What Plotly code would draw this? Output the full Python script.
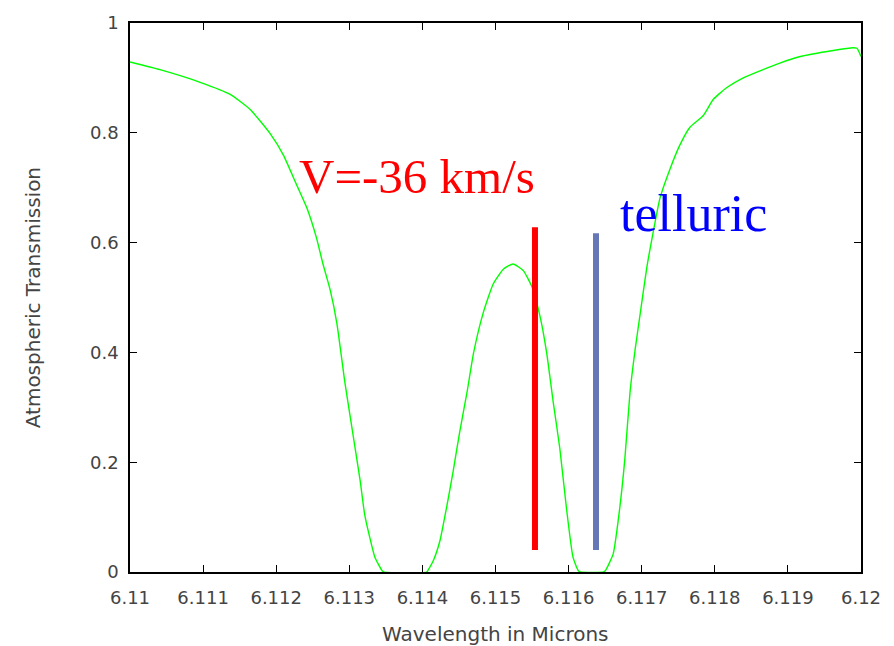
import plotly.graph_objects as go

# Atmospheric transmission curve
wavelength = [6.11000, 6.11041, 6.11096, 6.11137, 6.11164, 6.11192, 6.11210, 6.11228,
              6.11242, 6.11255, 6.11264, 6.11274, 6.11283, 6.11294, 6.11301, 6.11308,
              6.11315, 6.11321, 6.11328, 6.11335, 6.11344, 6.11347,
              6.11406, 6.11408, 6.11415, 6.11424, 6.11433, 6.11442, 6.11451, 6.11461,
              6.11470, 6.11483, 6.11497, 6.11511, 6.11524, 6.11538, 6.11550, 6.11561,
              6.11570, 6.11579, 6.11588, 6.11597, 6.11606, 6.11613, 6.11616,
              6.11648, 6.11651, 6.11661, 6.11670, 6.11677, 6.11684, 6.11691, 6.11698,
              6.11707, 6.11716, 6.11725, 6.11739, 6.11752, 6.11766, 6.11784, 6.11798,
              6.11816, 6.11839, 6.11866, 6.11889, 6.11917, 6.11962, 6.11989, 6.119945,
              6.12000]
transmission = [0.929, 0.915, 0.892, 0.870, 0.843, 0.798, 0.759, 0.705,
                0.663, 0.609, 0.561, 0.513, 0.453, 0.345, 0.285, 0.225,
                0.165, 0.105, 0.063, 0.027, 0.004, 0.0,
                0.0, 0.004, 0.021, 0.057, 0.117, 0.183, 0.255, 0.327,
                0.399, 0.471, 0.525, 0.552, 0.561, 0.549, 0.519, 0.465,
                0.399, 0.309, 0.225, 0.117, 0.027, 0.003, 0.0,
                0.0, 0.004, 0.033, 0.117, 0.207, 0.327, 0.405, 0.471,
                0.555, 0.621, 0.681, 0.735, 0.777, 0.810, 0.831, 0.861,
                0.882, 0.900, 0.915, 0.927, 0.939, 0.950, 0.955, 0.954,
                0.939]

# Marker lines
red_x = [6.11554, 6.11554]
red_y = [0.04, 0.628]
blue_x = [6.116375, 6.116375]
blue_y = [0.04, 0.617]

x_ticks = [6.11, 6.111, 6.112, 6.113, 6.114, 6.115, 6.116, 6.117, 6.118, 6.119, 6.12]
x_ticklabels = ["6.11", "6.111", "6.112", "6.113", "6.114", "6.115", "6.116", "6.117", "6.118", "6.119", "6.12"]
y_ticks = [0, 0.2, 0.4, 0.6, 0.8, 1]
y_ticklabels = ["0", "0.2", "0.4", "0.6", "0.8", "1"]

fig = go.Figure()
fig.add_trace(go.Scatter(x=wavelength, y=transmission, mode="lines",
                         line=dict(color="#00ff00", width=1.4, shape="spline", smoothing=0.5),
                         showlegend=False, hoverinfo="skip"))
fig.add_trace(go.Scatter(x=red_x, y=red_y, mode="lines",
                         line=dict(color="#ff0000", width=6), showlegend=False))
fig.add_trace(go.Scatter(x=blue_x, y=blue_y, mode="lines",
                         line=dict(color="#6677b8", width=6), showlegend=False))

fig.add_annotation(x=6.11229, y=0.720, xref="x", yref="y", text="V=-36 km/s",
                   showarrow=False, xanchor="left", yanchor="middle",
                   font=dict(family="Liberation Serif", size=49, color="#ff0000"))
fig.add_annotation(x=6.11667, y=0.653, xref="x", yref="y", text="telluric",
                   showarrow=False, xanchor="left", yanchor="middle",
                   font=dict(family="Liberation Serif", size=52, color="#0000ff"))

fig.add_annotation(x=0.5, y=-0.1124, xref="paper", yref="paper", text="Wavelength in Microns",
                   showarrow=False, xanchor="center", yanchor="middle",
                   font=dict(family="DejaVu Sans", size=20, color="#444444"))
fig.add_annotation(x=-0.133, y=0.5, xref="paper", yref="paper", text="Atmospheric Transmission",
                   showarrow=False, xanchor="center", yanchor="middle", textangle=-90,
                   font=dict(family="DejaVu Sans", size=20, color="#444444"))

axis_common = dict(showgrid=False, zeroline=False, showline=True, linecolor="black",
                   linewidth=1.5, mirror="ticks", ticks="inside", ticklen=7,
                   tickcolor="black", tickwidth=1.2,
                   tickfont=dict(family="DejaVu Sans", size=18, color="#444444"))

fig.update_xaxes(range=[6.11, 6.12], tickvals=x_ticks, ticktext=x_ticklabels,
                 ticklabelstandoff=9, **axis_common)
fig.update_yaxes(range=[0, 1], tickvals=y_ticks, ticktext=y_ticklabels,
                 ticklabelstandoff=6, **axis_common)

fig.update_layout(width=894, height=646, margin=dict(l=130, r=33, t=16, b=74),
                  paper_bgcolor="white", plot_bgcolor="white")

fig.write_html("out.html")
